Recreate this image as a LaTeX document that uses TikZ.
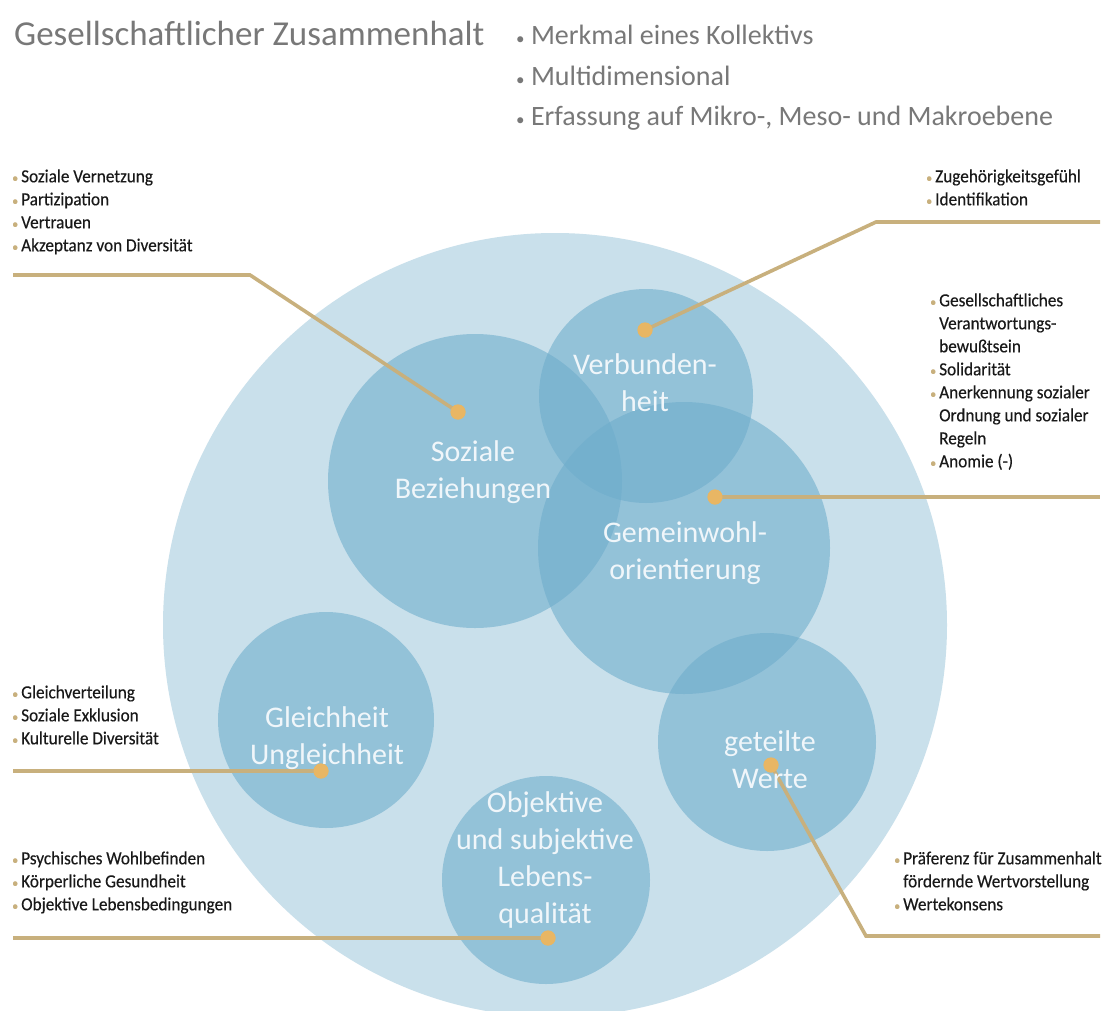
\documentclass[tikz,border=0pt]{standalone}
\usepackage{fontspec}
\setmainfont{Carlito}
\newfontfamily\labfont[FakeStretch=0.93,FakeBold=0.3]{Carlito}
\definecolor{bigc}{RGB}{201,224,235}
\definecolor{smallc}{RGB}{110,173,204}
\definecolor{gold}{RGB}{200,176,125}
\definecolor{dotc}{RGB}{232,182,100}
\definecolor{labc}{RGB}{25,25,25}
\definecolor{titc}{RGB}{120,120,120}
\definecolor{ctext}{RGB}{240,246,250}
\newcommand{\gb}{{\color{gold}\fontsize{13}{13}\selectfont\textbullet}}
\newcommand{\tb}{{\fontsize{17}{17}\selectfont\textbullet}}
\begin{document}
\begin{tikzpicture}[x=1pt,y=-1pt,
  bigcircle/.style={circle, fill=bigc, inner sep=0pt, minimum size=#1},
  subcircle/.style={circle, fill=smallc, fill opacity=0.585, inner sep=0pt, minimum size=#1},
  conn/.style={draw=gold, line width=3.6pt, line join=miter},
  dotnode/.style={circle, fill=dotc, inner sep=0pt, minimum size=15pt},
  ctxt/.style={text=ctext, align=center, font=\fontsize{30}{37}\selectfont},
  lab/.style={anchor=north west, text=labc, inner sep=0pt, font=\labfont\fontsize{18.5}{23}\selectfont},
  topb/.style={anchor=west, text=titc, inner sep=0pt, font=\fontsize{28}{32}\selectfont}
]
\useasboundingbox (0,0) rectangle (1106,1010);
\fill[white] (0,0) rectangle (1106,1010);

% title and bullets
\node[anchor=west, text=titc, inner sep=0pt, font=\fontsize{35}{40}\selectfont] (title) at (14,33) {Gesellschaftlicher Zusammenhalt};
\node[topb] (b1) at (516,35) {\tb\ Merkmal eines Kollektivs};
\node[topb] (b2) at (516,76) {\tb\ Multidimensional};
\node[topb] (b3) at (516,118) {\tb\ Erfassung auf Mikro-, Meso- und Makroebene};

% circles
\node[bigcircle=784pt] (c0) at (555,625) {};
\node[subcircle=294pt] (c1) at (475,481) {};
\node[subcircle=214pt] (c2) at (646,396) {};
\node[subcircle=292pt] (c3) at (684,548) {};
\node[subcircle=216pt] (c4) at (326,720) {};
\node[subcircle=218pt] (c5) at (767,742) {};
\node[subcircle=208pt] (c6) at (546,880) {};

% dots
\node[dotnode] (d1) at (458,412) {};
\node[dotnode] (d2) at (645,330) {};
\node[dotnode] (d3) at (715,497) {};
\node[dotnode] (d4) at (321,771) {};
\node[dotnode] (d5) at (548,938) {};
\node[dotnode] (d6) at (771,765) {};

% connector ends
\coordinate (k1) at (250,275);
\coordinate (e1) at (13,275);
\coordinate (k2) at (876,222);
\coordinate (e2) at (1100,222);
\coordinate (e3) at (1100,497);
\coordinate (e4) at (13,771);
\coordinate (e5) at (13,938);
\coordinate (k6) at (866,936);
\coordinate (e6) at (1100,936);

\draw[conn] (d1.center) -- (k1) -- (e1);
\draw[conn] (d2.center) -- (k2) -- (e2);
\draw[conn] (d3.center) -- (e3);
\draw[conn] (d4.center) -- (e4);
\draw[conn] (d5.center) -- (e5);
\draw[conn] (d6.center) -- (k6) -- (e6);

\foreach \n in {d1,d2,d3,d4,d5,d6} \node[dotnode] at (\n) {};

% circle texts
\node[ctxt] (t1) at (473,472) {Soziale\\Beziehungen};
\node[ctxt] (t2) at (645,383) {Verbunden-\\heit};
\node[ctxt] (t3) at (685,553) {Gemeinwohl-\\orientierung};
\node[ctxt] (t4) at (327,738) {Gleichheit\\Ungleichheit};
\node[ctxt] (t5) at (770,760) {geteilte\\Werte};
\node[ctxt] (t6) at (545,860) {Objektive\\und subjektive\\Lebens-\\qualität};

% labels
\node[lab] (l1) at (12,166) {\begin{tabular}{@{}l@{\hspace{3pt}}l@{}}
\gb & Soziale Vernetzung\\ \gb & Partizipation\\ \gb & Vertrauen\\ \gb & Akzeptanz von Diversität\end{tabular}};
\node[lab] (l2) at (926,166) {\begin{tabular}{@{}l@{\hspace{3pt}}l@{}}
\gb & Zugehörigkeitsgefühl\\ \gb & Identifikation\end{tabular}};
\node[lab] (l3) at (930,290) {\begin{tabular}{@{}l@{\hspace{3pt}}l@{}}
\gb & Gesellschaftliches\\ & Verantwortungs-\\ & bewußtsein\\ \gb & Solidarität\\ \gb & Anerkennung sozialer\\ & Ordnung und sozialer\\ & Regeln\\ \gb & Anomie (-)\end{tabular}};
\node[lab] (l4) at (12,682) {\begin{tabular}{@{}l@{\hspace{3pt}}l@{}}
\gb & Gleichverteilung\\ \gb & Soziale Exklusion\\ \gb & Kulturelle Diversität\end{tabular}};
\node[lab] (l5) at (12,848) {\begin{tabular}{@{}l@{\hspace{3pt}}l@{}}
\gb & Psychisches Wohlbefinden\\ \gb & Körperliche Gesundheit\\ \gb & Objektive Lebensbedingungen\end{tabular}};
\node[lab] (l6) at (894,848) {\begin{tabular}{@{}l@{\hspace{3pt}}l@{}}
\gb & Präferenz für Zusammenhalt\\ & fördernde Wertvorstellung\\ \gb & Wertekonsens\end{tabular}};
\end{tikzpicture}
\end{document}
